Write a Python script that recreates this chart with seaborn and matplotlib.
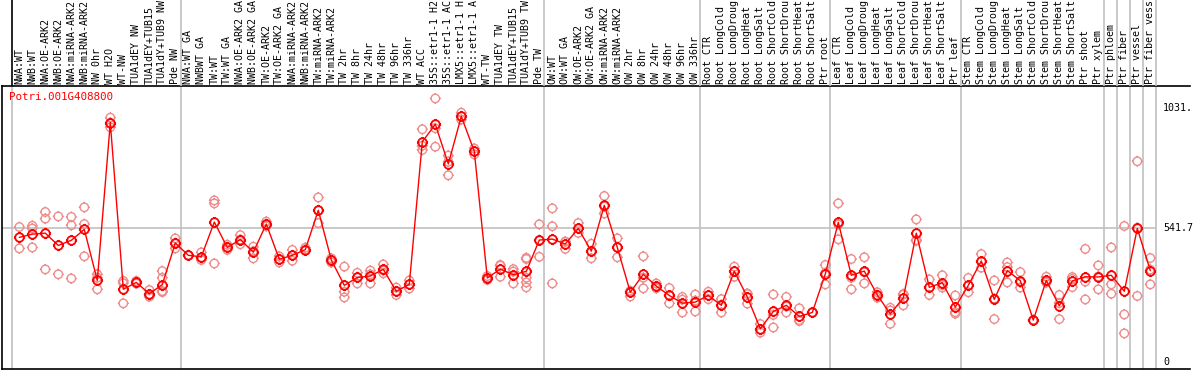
import numpy as np
import pandas as pd
import matplotlib
matplotlib.use("Agg")
import matplotlib.pyplot as plt
import matplotlib.path as mpath
from matplotlib.transforms import blended_transform_factory
import seaborn as sns

# ---------------- data ----------------
gene_id = "Potri.001G408800"

sample_labels = [
    "NWA:WT", "NWB:WT", "NWA:OE-ARK2", "NWB:OE-ARK2", "NWA:miRNA-ARK2", "NWB:miRNA-ARK2",
    "NW 0hr", "WT H2O", "WT-NW", "TUA1dEY NW", "TUA1dEY+TUB15", "TUA1dY+TUB9 NW", "Pde NW",
    "NWA:WT GA", "NWBWT GA", "TW:WT", "TW:WT GA", "NWA:OE-ARK2 GA", "NWB:OE-ARK2 GA",
    "TW:OE-ARK2", "TW:OE-ARK2 GA", "NWA:miRNA-ARK2", "NWB:miRNA-ARK2", "TW:miRNA-ARK2",
    "TW:miRNA-ARK2", "TW 2hr", "TW 8hr", "TW 24hr", "TW 48hr", "TW 96hr", "TW 336hr",
    "WT ACC", "35S::etr1-1 H2", "35S::etr1-1 AC", "LMX5::etr1-1 H", "LMX5::etr1-1 A",
    "WT-TW", "TUA1dEY TW", "TUA1dEY+TUB15", "TUA1dY+TUB9 TW", "Pde TW",
    "OW:WT", "OW:WT GA", "OW:OE-ARK2", "OW:OE-ARK2 GA", "OW:miRNA-ARK2", "OW:miRNA-ARK2",
    "OW 2hr", "OW 8hr", "OW 24hr", "OW 48hr", "OW 96hr", "OW 336hr",
    "Root CTR", "Root LongCold", "Root LongDroug", "Root LongHeat", "Root LongSalt",
    "Root ShortCold", "Root ShortDrou", "Root ShortHeat", "Root ShortSalt", "Ptr root",
    "Leaf CTR", "Leaf LongCold", "Leaf LongDroug", "Leaf LongHeat", "Leaf LongSalt",
    "Leaf ShortCold", "Leaf ShortDrou", "Leaf ShortHeat", "Leaf ShortSalt", "Ptr leaf",
    "Stem CTR", "Stem LongCold", "Stem LongDroug", "Stem LongHeat", "Stem LongSalt",
    "Stem ShortCold", "Stem ShortDrou", "Stem ShortHeat", "Stem ShortSalt", "Ptr shoot",
    "Ptr xylem", "Ptr phloem", "Ptr fiber", "Ptr vessel", "Ptr fiber vess",
]

group_sizes = [13, 28, 12, 10, 10, 11, 1, 1, 1, 1]

mean_values = [
    505, 518, 522, 472, 493, 537, 330, 971, 294, 322, 276, 313, 482,
    432, 426, 567, 464, 496, 445, 559, 416, 432, 455, 615, 413, 310, 342, 348, 375,
    286, 314, 893, 964, 803, 996, 854, 340, 376, 353, 367, 494,
    498, 478, 541, 449, 635, 464, 282, 355, 307, 269, 238, 242,
    269, 229, 367, 263, 134, 204, 229, 184, 200, 356,
    566, 351, 368, 271, 194, 259, 522, 302, 321, 222,
    310, 409, 253, 370, 329, 169, 330, 227, 328, 345, 344,
    351, 286, 541, 370,
]

replicate_values = [
    [547, 460], [552, 541, 464], [608, 581, 375], [590, 355], [588, 554, 338],
    [627, 559, 428], [355, 341, 294], [991, 971, 952], [328, 319, 237], [328, 317],
    [291, 264, 273], [368, 341, 287, 284, 283], [501, 460, 482],
    [432, 433], [444, 413, 422], [655, 643, 399], [475, 454, 464], [514, 477, 496],
    [467, 420, 449], [569, 550, 559], [428, 403, 416], [454, 410, 432], [463, 452, 455],
    [667, 563, 615], [403, 420, 413], [386, 284, 261], [361, 318, 343], [370, 318, 355],
    [395, 359, 371], [301, 271, 286], [330, 297, 314], [944, 860, 877], [1069, 948, 873],
    [837, 812, 757], [1011, 983, 996], [866, 842, 854], [348, 332, 340], [390, 345, 393],
    [376, 318, 366], [422, 417, 366, 341, 322, 302], [558, 426, 494],
    [623, 550, 318], [487, 458, 488], [563, 523, 541], [479, 420, 449], [673, 602, 630],
    [501, 424, 464], [288, 265, 282], [428, 298, 341], [318, 298, 307], [299, 237, 269],
    [263, 200, 252], [273, 204, 248],
    [284, 254, 269], [254, 200, 231], [386, 345, 367], [277, 236, 275], [153, 118, 131],
    [273, 190, 139], [263, 200, 224], [217, 165, 169], [200, 200], [393, 314, 361],
    [643, 497, 557], [417, 294, 341], [424, 318, 363], [271, 260, 282], [219, 154, 208],
    [275, 229, 272], [578, 494, 491], [334, 271, 301], [351, 301, 311], [269, 195, 201],
    [340, 282, 309], [437, 382, 407], [330, 173, 256], [403, 322, 384], [364, 301, 322],
    [169, 169, 169], [345, 325, 321], [271, 173, 238], [344, 336, 303], [458, 253, 325],
    [391, 294, 346],
    [464, 314, 276], [551, 192, 115], [814, 267, 544], [421, 314, 374],
]

ytick_values = [0, 541.7, 1031.4]
ytick_labels = ["0", "541.7", "1031."]

# ---------------- styling ----------------
sns.set_style("white")
plt.rcParams["font.family"] = ["DejaVu Sans Mono", "DejaVu Sans"]

W, H = 1194, 370
fig = plt.figure(figsize=(W / 100, H / 100), dpi=100)
fig.patch.set_facecolor("white")
fig.patch.set_edgecolor("white")

left_px, right_px, top_px, bottom_px = 1.7, 1190.0, 85.7, 369.0
ax = fig.add_axes([left_px / W, (H - bottom_px) / H, (right_px - left_px) / W, (bottom_px - top_px) / H])
axh = fig.add_axes([left_px / W, (H - top_px) / H, (right_px - left_px) / W, top_px / H], sharex=ax)

x0_px, step_px = 19.3, 13.0
ax.set_xlim((left_px - x0_px) / step_px, (right_px - x0_px) / step_px)
ax.set_ylim(-29.6, 1120.8)

idx = np.arange(len(sample_labels))

# marker: circle with four small ticks
circ = mpath.Path.unit_circle()
t = 1.3
ticks = mpath.Path(
    [(0, 1), (0, t), (0, -1), (0, -t), (1, 0), (t, 0), (-1, 0), (-t, 0)],
    [mpath.Path.MOVETO, mpath.Path.LINETO] * 4,
)
marker_path = mpath.Path.make_compound_path(circ, ticks)

rep_df = pd.DataFrame(
    [(i, v) for i, reps in enumerate(replicate_values) for v in reps],
    columns=["sample", "value"],
)
mean_df = pd.DataFrame({"sample": idx, "value": mean_values})

# group separators
bounds = np.concatenate([[0], np.cumsum(group_sizes)]) - 1 + 0.4
sep_color = "#c0c0c0"
for k, b in enumerate(bounds):
    ax.axvline(b, color=sep_color, lw=1.2, zorder=0)
    axh.axvline(b, color="black" if k == 0 else sep_color, lw=1.2, zorder=0)

ax.hlines(ytick_values[1], ax.get_xlim()[0], bounds[-1], color=sep_color, lw=1.2, zorder=0)

sns.scatterplot(
    data=rep_df, x="sample", y="value", ax=ax, marker=marker_path, s=62,
    facecolor="none", edgecolor="#ee8c8c", linewidth=1.0, zorder=2, legend=False,
)
sns.lineplot(
    data=mean_df, x="sample", y="value", ax=ax, color="red", lw=1.0,
    marker=marker_path, markersize=8.0, markerfacecolor="none",
    markeredgecolor="red", markeredgewidth=1.3, zorder=3, legend=False,
)

ax.set_xlabel("")
ax.set_ylabel("")
ax.set_xticks([])
ax.set_yticks([])
ax.spines["right"].set_visible(False)
for s in ["left", "bottom", "top"]:
    ax.spines[s].set_color("black")
    ax.spines[s].set_linewidth(1.2)

# right-side value labels
tr = blended_transform_factory(fig.transFigure, ax.transData)
for v, lab in zip(ytick_values, ytick_labels):
    ax.text(1163 / W, v, lab, transform=tr, ha="left", va="center",
            fontsize=7.2, color="black", clip_on=False)

# title
fig.text(9.5 / W, 1 - 97 / H, gene_id, color="red", fontsize=7.8,
         ha="left", va="center")

# header labels
axh.set_ylim(0, 1)
axh.axis("off")
trh = blended_transform_factory(axh.transData, axh.transAxes)
for i, lab in zip(idx, sample_labels):
    axh.text(i, 2.0 / top_px, lab, transform=trh, rotation=90, ha="center",
             va="bottom", fontsize=7.2, color="black", clip_on=False)

fig.savefig("out.png", dpi=100, facecolor="white", edgecolor="white")
